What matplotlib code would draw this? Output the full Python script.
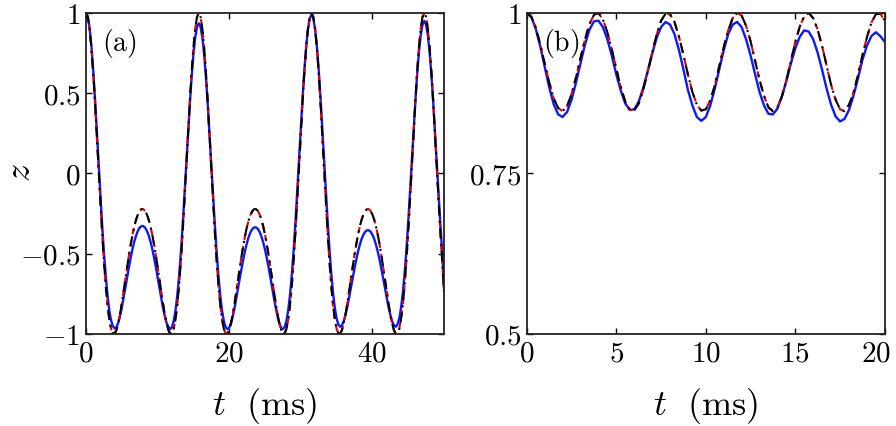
import numpy as np
import matplotlib
matplotlib.use('Agg')
from matplotlib import pyplot as plt
from matplotlib.transforms import ScaledTranslation

plt.rcParams['mathtext.fontset'] = 'cm'
plt.rcParams['font.family'] = ['DejaVu Serif']

## panel (a): t from 0 to 50 ms, step 0.25
t_a = np.arange(0, 50.01, 0.25)

# black dash-dot / red dashed (the two coincide)
z_a_black = [
    1.000, 0.975, 0.902, 0.784, 0.630, 0.446, 0.245, 0.035, -0.172, -0.368, -0.545, -0.697,
    -0.819, -0.909, -0.968, -0.996, -0.997, -0.975, -0.933, -0.876, -0.809, -0.734, -0.657,
    -0.581, -0.507, -0.441, -0.381, -0.329, -0.287, -0.255, -0.233, -0.222, -0.222, -0.233,
    -0.255, -0.287, -0.329, -0.381, -0.441, -0.507, -0.581, -0.657, -0.734, -0.809, -0.876,
    -0.933, -0.975, -0.997, -0.996, -0.968, -0.909, -0.819, -0.697, -0.545, -0.368, -0.172,
    0.035, 0.245, 0.446, 0.630, 0.784, 0.902, 0.975,
    1.000,
    0.975, 0.902, 0.784, 0.630, 0.446, 0.245, 0.035, -0.172, -0.368, -0.545, -0.697,
    -0.819, -0.909, -0.968, -0.996, -0.997, -0.975, -0.933, -0.876, -0.809, -0.734, -0.657,
    -0.581, -0.507, -0.441, -0.381, -0.329, -0.287, -0.255, -0.233, -0.222, -0.222, -0.233,
    -0.255, -0.287, -0.329, -0.381, -0.441, -0.507, -0.581, -0.657, -0.734, -0.809, -0.876,
    -0.933, -0.975, -0.997, -0.996, -0.968, -0.909, -0.819, -0.697, -0.545, -0.368, -0.172,
    0.035, 0.245, 0.446, 0.630, 0.784, 0.902, 0.975,
    1.000,
    0.975, 0.902, 0.784, 0.630, 0.446, 0.245, 0.035, -0.172, -0.368, -0.545, -0.697,
    -0.819, -0.909, -0.968, -0.996, -0.997, -0.975, -0.933, -0.876, -0.809, -0.734, -0.657,
    -0.581, -0.507, -0.441, -0.381, -0.329, -0.287, -0.255, -0.233, -0.222, -0.222, -0.233,
    -0.255, -0.287, -0.329, -0.381, -0.441, -0.507, -0.581, -0.657, -0.734, -0.809, -0.876,
    -0.933, -0.975, -0.997, -0.996, -0.968, -0.909, -0.819, -0.697, -0.545, -0.368, -0.172,
    0.035, 0.245, 0.446, 0.630, 0.784, 0.902, 0.975,
    1.000,
    0.975, 0.902, 0.784, 0.630, 0.446, 0.245, 0.035, -0.172, -0.368, -0.545, -0.740,
]
z_a_red = z_a_black

# blue solid
z_a_blue = [
    1.000, 0.976, 0.907, 0.795, 0.647, 0.470, 0.272, 0.068, -0.133, -0.319, -0.489, -0.636,
    -0.758, -0.853, -0.915, -0.952, -0.965, -0.957, -0.931, -0.889, -0.836, -0.775, -0.711,
    -0.645, -0.582, -0.523, -0.469, -0.423, -0.386, -0.357, -0.337, -0.328, -0.328, -0.337,
    -0.357, -0.386, -0.423, -0.469, -0.523, -0.582, -0.645, -0.711, -0.775, -0.836, -0.889,
    -0.931, -0.955, -0.970, -0.957, -0.919, -0.854, -0.759, -0.639, -0.493, -0.323, -0.139,
    0.054, 0.247, 0.432, 0.600, 0.741, 0.847, 0.913,
    0.936,
    0.913, 0.847, 0.741, 0.600, 0.432, 0.247, 0.054, -0.139, -0.323, -0.493, -0.639,
    -0.759, -0.854, -0.919, -0.957, -0.970, -0.961, -0.933, -0.890, -0.837, -0.776, -0.712,
    -0.646, -0.585, -0.527, -0.474, -0.429, -0.392, -0.364, -0.345, -0.336, -0.336, -0.345,
    -0.364, -0.392, -0.429, -0.474, -0.527, -0.585, -0.646, -0.712, -0.776, -0.837, -0.890,
    -0.933, -0.961, -0.970, -0.957, -0.918, -0.850, -0.754, -0.629, -0.478, -0.305, -0.116,
    0.083, 0.282, 0.472, 0.644, 0.789, 0.898, 0.967,
    0.990,
    0.967, 0.899, 0.791, 0.647, 0.476, 0.287, 0.090, -0.107, -0.295, -0.468, -0.617,
    -0.741, -0.836, -0.903, -0.942, -0.955, -0.946, -0.920, -0.880, -0.830, -0.773, -0.712,
    -0.651, -0.592, -0.536, -0.486, -0.443, -0.407, -0.381, -0.363, -0.354, -0.354, -0.363,
    -0.381, -0.407, -0.443, -0.486, -0.536, -0.592, -0.651, -0.712, -0.773, -0.830, -0.880,
    -0.920, -0.946, -0.955, -0.942, -0.904, -0.839, -0.745, -0.624, -0.478, -0.308, -0.125,
    0.068, 0.262, 0.447, 0.614, 0.755, 0.861, 0.927,
    0.950,
    0.927, 0.860, 0.753, 0.611, 0.443, 0.256, 0.061, -0.133, -0.319, -0.489, -0.700,
]

## panel (b): t from 0 to 20 ms, step 0.25
t_b = np.arange(0, 20.01, 0.25)

z_b_black = [
    1.000, 0.994, 0.977, 0.951, 0.921, 0.892, 0.867, 0.852, 0.847, 0.855, 0.874, 0.900,
    0.930, 0.959, 0.983, 0.997,
    1.000, 0.990, 0.970, 0.943, 0.913, 0.884, 0.862, 0.849, 0.848, 0.859, 0.880, 0.908,
    0.938, 0.966, 0.988, 0.999,
    0.998, 0.986, 0.963, 0.935, 0.904, 0.877, 0.857, 0.848, 0.850, 0.864, 0.887, 0.917,
    0.947, 0.973, 0.992, 1.000,
    0.996, 0.980, 0.956, 0.926, 0.896, 0.871, 0.853, 0.847, 0.853, 0.870, 0.895, 0.925,
    0.955, 0.979, 0.995, 1.000,
    0.992, 0.974, 0.948, 0.918, 0.888, 0.865, 0.850, 0.847, 0.857, 0.876, 0.903, 0.934,
    0.962, 0.985, 0.998, 0.999,
    0.988,
]
z_b_red = z_b_black

z_b_blue = [
    1.000, 0.994, 0.975, 0.948, 0.916, 0.884, 0.858, 0.842, 0.838, 0.846, 0.865, 0.892,
    0.922, 0.951, 0.974, 0.987,
    0.988, 0.978, 0.959, 0.933, 0.904, 0.879, 0.859, 0.849, 0.850, 0.862, 0.883, 0.909,
    0.936, 0.961, 0.978, 0.986,
    0.982, 0.967, 0.942, 0.912, 0.880, 0.856, 0.838, 0.832, 0.838, 0.856, 0.882, 0.912,
    0.942, 0.967, 0.982, 0.986,
    0.978, 0.959, 0.934, 0.905, 0.877, 0.856, 0.843, 0.842, 0.851, 0.870, 0.894, 0.921,
    0.945, 0.963, 0.973, 0.971,
    0.959, 0.938, 0.911, 0.882, 0.857, 0.839, 0.831, 0.835, 0.849, 0.871, 0.898, 0.927,
    0.949, 0.964, 0.970, 0.964,
    0.955,
]

## ticks
xticks_a = [0, 20, 40]
yticks_a = [-1, -0.5, 0, 0.5, 1]
yticklabels_a = ['$-1$', '$-0.5$', '$0$', '$0.5$', '$1$']
xticks_b = [0, 5, 10, 15, 20]
yticks_b = [0.5, 0.75, 1]
yticklabels_b = ['$0.5$', '$0.75$', '$1$']


def style_axes(ax):
    ax.tick_params(direction='in', top=True, right=True, length=4, width=1.0,
                   labelsize=21, pad=4)
    for s in ax.spines.values():
        s.set_linewidth(1.3)
        s.set_color('#222222')


def draw(ax, t, blue, red, black):
    ax.plot(t, blue, color='#0a1aff', lw=1.7, ls='-')
    ax.plot(t, red, color='#e00000', lw=1.5, ls='--', dashes=(3, 3))
    ax.plot(t, black, color='black', lw=1.5, ls='-.', dashes=(5, 2.5, 1, 2.5))


fig = plt.figure(figsize=(8.96, 4.26), dpi=100)
ax1 = fig.add_axes([0.096, 0.216, 0.3995, 0.7535])
ax2 = fig.add_axes([0.588, 0.216, 0.3995, 0.7535])

draw(ax1, t_a, z_a_blue, z_a_red, z_a_black)
ax1.set_xlim(0, 50)
ax1.set_ylim(-1, 1)
ax1.set_xticks(xticks_a, ['$%d$' % v for v in xticks_a])
ax1.set_yticks(yticks_a, yticklabels_a)
ax1.set_xlabel(r'$t\ \ \mathrm{(ms)}$', fontsize=26, labelpad=13)
ax1.text(0.045, 0.955, r'$\mathrm{(a)}$', transform=ax1.transAxes,
         fontsize=20, va='top', ha='left')
style_axes(ax1)
fig.text(20 / 896, 1 - 173 / 426, '$z$', fontsize=26, rotation=90,
         ha='center', va='center')

draw(ax2, t_b, z_b_blue, z_b_red, z_b_black)
ax2.set_xlim(0, 20)
ax2.set_ylim(0.5, 1)
ax2.set_xticks(xticks_b, ['$%d$' % v for v in xticks_b])
ax2.set_yticks(yticks_b, yticklabels_b)
ax2.set_xlabel(r'$t\ \ \mathrm{(ms)}$', fontsize=26, labelpad=13)
ax2.text(0.045, 0.955, r'$\mathrm{(b)}$', transform=ax2.transAxes,
         fontsize=20, va='top', ha='left')
style_axes(ax2)

# keep the last tick label of (b) inside the figure
last = ax2.get_xticklabels()[-1]
last.set_transform(last.get_transform() + ScaledTranslation(-6 / 72, 0, fig.dpi_scale_trans))

fig.savefig('out.png', dpi=100)
